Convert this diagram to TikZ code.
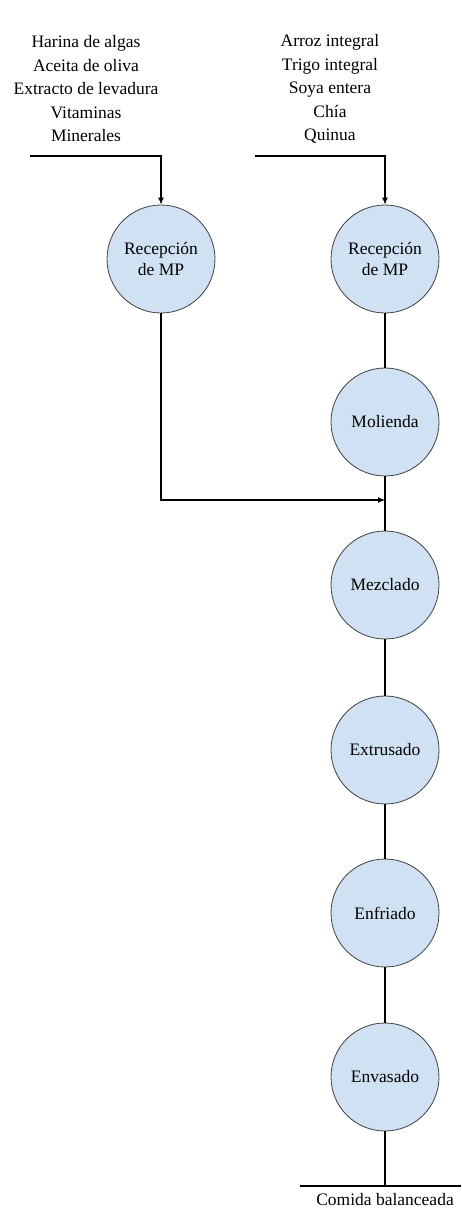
\documentclass[tikz,border=0pt]{standalone}
\usepackage{fontspec}
\setmainfont{Liberation Serif}
\usetikzlibrary{arrows.meta}
\definecolor{procfill}{RGB}{207,225,242}
\tikzset{
  proc/.style={circle,draw=black!75,line width=0.8pt,fill=procfill,minimum size=108pt,inner sep=0pt,align=center,font=\fontsize{17.5}{21}\selectfont},
  lista/.style={align=center,inner sep=0pt,font=\fontsize{17.5}{23.5}\selectfont},
  flecha/.style={-{Latex[length=7pt,width=6pt]},line width=1.2pt},
  linea/.style={line width=1.2pt}
}
\begin{document}
\begin{tikzpicture}[x=1pt,y=-1pt]
	    % marco de la figura
	    \useasboundingbox (0,0) rectangle (461,1212);
	    % materias primas
	    \node[lista] (insumos) at (86,89) {Harina de algas\\Aceita de oliva\\Extracto de levadura\\Vitaminas\\Minerales};
	    \node[lista] (granos) at (330,89) {Arroz integral\\Trigo integral\\Soya entera\\Chía\\Quinua};
	    % operaciones
	    \node[proc] (recep1) at (161,259) {Recepción\\de MP};
	    \node[proc] (recep2) at (385,259) {Recepción\\de MP};
	    \node[proc] (molienda) at (385,422) {Molienda};
	    \node[proc] (mezclado) at (385,585) {Mezclado};
	    \node[proc] (extrusado) at (385,750) {Extrusado};
	    \node[proc] (enfriado) at (385,913) {Enfriado};
	    \node[proc] (envasado) at (385,1077) {Envasado};
	    % puntos de las lineas
	    \coordinate (ini1) at (30,156);
	    \coordinate (ini2) at (255,156);
	    \coordinate (union) at (385,500);
	    \coordinate (salida) at (385,1186);
	    \coordinate (finL) at (300,1186);
	    \coordinate (finR) at (461,1186);
	    % entradas
	    \draw[flecha] (ini1) -| (recep1);
	    \draw[flecha] (ini2) -| (recep2);
	    \draw[flecha] (recep1) |- (union);
	    % linea de proceso
	    \draw[linea] (recep2) -- (molienda);
	    \draw[linea] (molienda) -- (mezclado);
	    \draw[linea] (mezclado) -- (extrusado);
	    \draw[linea] (extrusado) -- (enfriado);
	    \draw[linea] (enfriado) -- (envasado);
	    \draw[linea] (envasado) -- (salida);
	    \draw[linea] (finL) -- (finR);
	    \node[lista] (producto) at (385,1199) {Comida balanceada};
	\end{tikzpicture}
\end{document}
